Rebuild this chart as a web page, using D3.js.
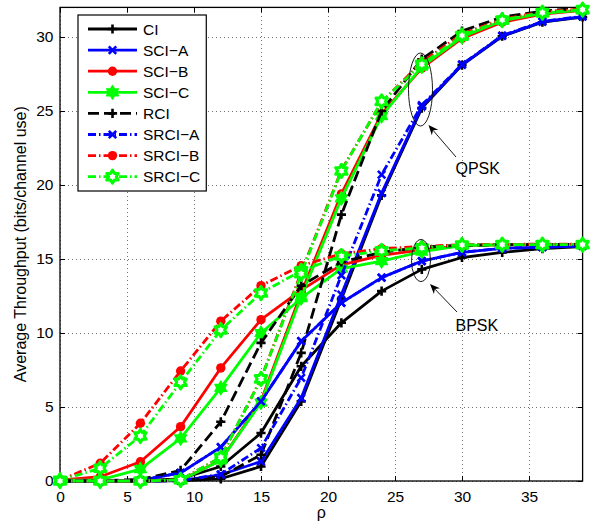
<!DOCTYPE html>
<html>
<head>
<meta charset="utf-8">
<script src="https://cdn.jsdelivr.net/npm/d3@7"></script>
<style>
  html, body { margin: 0; padding: 0; background: #fff; }
  svg { display: block; font-family: "Liberation Sans", Arial, Helvetica, sans-serif; }
</style>
</head>
<body>
<svg id="chart" width="596" height="527"></svg>
<script>
// SNR grid (rho) shared by every curve
const rho = [0, 3, 6, 9, 12, 15, 18, 21, 24, 27, 30, 33, 36, 39];

const xTicks = [0, 5, 10, 15, 20, 25, 30, 35];
const yTicks = [0, 5, 10, 15, 20, 25, 30];

const schemeNames = ["CI", "SCI−A", "SCI−B", "SCI−C", "RCI", "SRCI−A", "SRCI−B", "SRCI−C"];

// BPSK throughput per scheme (saturates at 16)
const ciBpsk    = [0, 0, 0.02, 0.15, 0.98, 3.24, 7.75, 10.69, 12.83, 14.3, 15.1, 15.45, 15.7, 15.84];
const sciABpsk  = [0, 0, 0.05, 0.55, 2.29, 5.38, 9.45, 12.04, 13.74, 14.86, 15.45, 15.72, 15.8, 15.88];
const sciBBpsk  = [0.05, 0.29, 1.3, 3.67, 7.64, 10.9, 12.9, 14.6, 15.25, 15.62, 15.9, 15.95, 15.97, 15.98];
const sciCBpsk  = [0.05, 0.08, 0.8, 2.88, 6.29, 10.0, 12.35, 14.35, 14.85, 15.5, 15.9, 15.95, 15.97, 15.97];
const rciBpsk   = [0, 0.02, 0.1, 0.72, 4.0, 9.33, 13.2, 14.8, 15.45, 15.8, 15.93, 15.97, 15.98, 15.98];
const srciABpsk = [0, 0, 0.05, 0.55, 2.29, 5.38, 9.45, 12.04, 13.74, 14.86, 15.45, 15.72, 15.8, 15.88];
const srciBBpsk = [0.05, 1.2, 3.9, 7.43, 10.8, 13.2, 14.55, 15.35, 15.7, 15.85, 15.97, 15.99, 16.0, 16.0];
const srciCBpsk = [0.05, 0.86, 3.04, 6.67, 10.2, 12.7, 14.2, 15.2, 15.55, 15.75, 15.95, 15.97, 15.97, 15.97];

// QPSK throughput per scheme (saturates at 32)
const ciQpsk    = [0, 0, 0, 0.02, 0.15, 0.98, 5.38, 12.3, 19.3, 25.2, 28.1, 30.05, 31.0, 31.35];
const sciAQpsk  = [0, 0, 0, 0.02, 0.42, 1.32, 5.61, 12.6, 19.45, 25.3, 28.12, 30.07, 31.03, 31.37];
const sciBQpsk  = [0, 0, 0, 0.05, 1.4, 5.4, 12.7, 19.4, 24.8, 27.9, 29.9, 31.0, 31.55, 31.8];
const sciCQpsk  = [0, 0, 0, 0.05, 1.4, 5.3, 12.45, 19.1, 24.65, 28.0, 30.0, 31.1, 31.6, 31.82];
const rciQpsk   = [0, 0, 0, 0.02, 0.3, 1.77, 8.66, 18.0, 25.0, 28.5, 30.4, 31.35, 31.75, 31.95];
const srciAQpsk = [0, 0, 0, 0.03, 0.45, 2.23, 6.97, 13.9, 20.7, 25.4, 28.15, 30.1, 31.05, 31.4];
const srciBQpsk = [0, 0, 0, 0.08, 1.6, 6.9, 14.1, 21.0, 25.6, 28.3, 30.2, 31.2, 31.7, 31.9];
const srciCQpsk = [0, 0, 0, 0.08, 1.6, 6.9, 14.0, 20.95, 25.65, 28.15, 30.1, 31.15, 31.65, 31.85];

const bpskValues = [ciBpsk, sciABpsk, sciBBpsk, sciCBpsk, rciBpsk, srciABpsk, srciBBpsk, srciCBpsk];
const qpskValues = [ciQpsk, sciAQpsk, sciBQpsk, sciCQpsk, rciQpsk, srciAQpsk, srciBQpsk, srciCQpsk];

const xLabel = "ρ";
const yLabel = "Average Throughput (bits/channel use)";
const annotationLabels = ["QPSK", "BPSK"];

// ---- styles per scheme ----
const colors  = ["#000000", "#0000ff", "#ff0000", "#00ff00", "#000000", "#0000ff", "#ff0000", "#00ff00"];
const markers = ["plus", "cross", "circle", "hexagram", "plus", "cross", "circle", "hexagramOpen"];
const dashes  = [null, null, null, null, "11,5", "8,3,1.5,3", "8,3,1.5,3", "8,3,1.5,3"];

const series = schemeNames.map((name, i) => ({
  name, color: colors[i], marker: markers[i], dash: dashes[i],
  curves: [bpskValues[i], qpskValues[i]]
}));

const svg = d3.select("#chart");
const W = 596, H = 527;
const plot = { left: 60, right: 582.6, top: 7.4, bottom: 481 };

const x = d3.scaleLinear().domain([0, 39]).range([plot.left, plot.right]);
const y = d3.scaleLinear().domain([0, 32]).range([plot.bottom, plot.top]);

svg.append("rect").attr("width", W).attr("height", H).attr("fill", "#fff");

// grid (dotted)
const gridX = svg.append("g")
  .attr("transform", `translate(0,${plot.bottom})`)
  .call(d3.axisBottom(x).tickValues(xTicks).tickSize(-(plot.bottom - plot.top)).tickFormat(""));
const gridY = svg.append("g")
  .attr("transform", `translate(${plot.left},0)`)
  .call(d3.axisLeft(y).tickValues(yTicks).tickSize(-(plot.right - plot.left)).tickFormat(""));
[gridX, gridY].forEach(g => {
  g.select(".domain").remove();
  g.selectAll("line").attr("stroke", "#333").attr("stroke-width", 0.7).attr("stroke-dasharray", "1,3");
});

// axes with inward ticks on all four sides
const fontSize = 15.5;
const axB = svg.append("g").attr("transform", `translate(0,${plot.bottom})`)
  .call(d3.axisBottom(x).tickValues(xTicks).tickSize(-5).tickPadding(9.5));
const axT = svg.append("g").attr("transform", `translate(0,${plot.top})`)
  .call(d3.axisTop(x).tickValues(xTicks).tickSize(-5).tickFormat(""));
const axL = svg.append("g").attr("transform", `translate(${plot.left},0)`)
  .call(d3.axisLeft(y).tickValues(yTicks).tickSize(-5).tickPadding(6.5));
const axR = svg.append("g").attr("transform", `translate(${plot.right},0)`)
  .call(d3.axisRight(y).tickValues(yTicks).tickSize(-5).tickFormat(""));
[axB, axT, axL, axR].forEach(g => {
  g.select(".domain").remove();
  g.attr("font-family", null).attr("font-size", null);
  g.selectAll("line").attr("stroke", "#000").attr("stroke-width", 1);
  g.selectAll("text").attr("fill", "#000").attr("font-size", fontSize);
});

// frame
svg.append("rect")
  .attr("x", plot.left).attr("y", plot.top)
  .attr("width", plot.right - plot.left).attr("height", plot.bottom - plot.top)
  .attr("fill", "none").attr("stroke", "#000").attr("stroke-width", 1.3);

// axis titles
svg.append("text").attr("x", (plot.left + plot.right) / 2).attr("y", 517.5)
  .attr("text-anchor", "middle").attr("font-size", 16).text(xLabel);
svg.append("text")
  .attr("transform", `translate(25.5,${(plot.top + plot.bottom) / 2}) rotate(-90)`)
  .attr("text-anchor", "middle").attr("font-size", 16).text(yLabel);

// marker drawing
function hexagramPath(R) {
  const pts = [];
  for (let k = 0; k < 12; k++) {
    const a = (-90 + k * 30) * Math.PI / 180;
    const r = k % 2 === 0 ? R : R / Math.sqrt(3);
    pts.push([r * Math.cos(a), r * Math.sin(a)]);
  }
  return "M" + pts.map(p => p[0].toFixed(2) + "," + p[1].toFixed(2)).join("L") + "Z";
}
function drawMarker(g, type, color, cx, cy) {
  const t = `translate(${cx},${cy})`;
  if (type === "plus") {
    g.append("path").attr("transform", t).attr("d", "M-4.6,0H4.6M0,-4.6V4.6")
      .attr("stroke", color).attr("stroke-width", 2.6).attr("fill", "none");
  } else if (type === "cross") {
    g.append("path").attr("transform", t).attr("d", "M-3.7,-3.7L3.7,3.7M-3.7,3.7L3.7,-3.7")
      .attr("stroke", color).attr("stroke-width", 2.6).attr("fill", "none");
  } else if (type === "circle") {
    g.append("circle").attr("cx", cx).attr("cy", cy).attr("r", 4.7).attr("fill", color);
  } else if (type === "hexagram") {
    g.append("path").attr("transform", t).attr("d", hexagramPath(6.8))
      .attr("fill", color).attr("stroke", color).attr("stroke-width", 1.4).attr("stroke-linejoin", "round");
  } else if (type === "hexagramOpen") {
    g.append("path").attr("transform", t).attr("d", hexagramPath(6.6))
      .attr("fill", "#fff").attr("stroke", color).attr("stroke-width", 3).attr("stroke-linejoin", "round");
  }
}

// curves
const line = d3.line().x((d, i) => x(rho[i])).y(d => y(d));
const curvesG = svg.append("g");
series.forEach(s => {
  s.curves.forEach(vals => {
    const g = curvesG.append("g");
    g.append("path").attr("d", line(vals))
      .attr("fill", "none").attr("stroke", s.color).attr("stroke-width", 2.8)
      .attr("stroke-linejoin", "round")
      .attr("stroke-dasharray", s.dash);
    vals.forEach((v, i) => drawMarker(g, s.marker, s.color, x(rho[i]), y(v)));
  });
});

// annotations: ellipses, arrows, labels
const ann = svg.append("g");
const ellipses = [
  { cx: 420.5, cy: 89.5, rx: 12, ry: 36.5 },
  { cx: 421, cy: 260.5, rx: 9.5, ry: 21 }
];
const arrows = [
  { x1: 456, y1: 157, x2: 428.5, y2: 125 },
  { x1: 457, y1: 312, x2: 430, y2: 284 }
];
const labelPos = [[455.5, 173.5], [455.5, 331]];
ellipses.forEach(e => ann.append("ellipse").attr("cx", e.cx).attr("cy", e.cy)
  .attr("rx", e.rx).attr("ry", e.ry).attr("fill", "none").attr("stroke", "#000").attr("stroke-width", 0.9));
arrows.forEach(a => {
  const ang = Math.atan2(a.y2 - a.y1, a.x2 - a.x1);
  const L = 10, Wd = 4.2, back = 7;
  const ux = Math.cos(ang), uy = Math.sin(ang);
  const bx = a.x2 - ux * L, by = a.y2 - uy * L;
  const nx = a.x2 - ux * back, ny = a.y2 - uy * back;
  ann.append("line").attr("x1", a.x1).attr("y1", a.y1).attr("x2", nx).attr("y2", ny)
    .attr("stroke", "#000").attr("stroke-width", 0.9);
  ann.append("path")
    .attr("d", `M${a.x2},${a.y2}L${bx - uy * Wd},${by + ux * Wd}L${nx},${ny}L${bx + uy * Wd},${by - ux * Wd}Z`)
    .attr("fill", "#000");
});
annotationLabels.forEach((t, i) => ann.append("text")
  .attr("x", labelPos[i][0]).attr("y", labelPos[i][1]).attr("font-size", 16).text(t));

// legend
const legend = svg.append("g");
const legX = 78, legY = 15, rowH = 21.1, firstRow = 29;
const legBox = legend.append("rect").attr("x", legX).attr("y", legY).attr("height", 176)
  .attr("fill", "#fff").attr("stroke", "#000").attr("stroke-width", 1.2);
let maxText = 0;
series.forEach((s, i) => {
  const cy = firstRow + i * rowH;
  const g = legend.append("g");
  g.append("line").attr("x1", 88).attr("x2", 137).attr("y1", cy).attr("y2", cy)
    .attr("stroke", s.color).attr("stroke-width", 2.8).attr("stroke-dasharray", s.dash);
  drawMarker(g, s.marker, s.color, 112.5, cy);
  const txt = g.append("text").attr("x", 143).attr("y", cy + 5.5).attr("font-size", 15.5).text(s.name);
  maxText = Math.max(maxText, txt.node().getComputedTextLength());
});
legBox.attr("width", 143 + maxText + 6 - legX);
</script>
</body>
</html>
